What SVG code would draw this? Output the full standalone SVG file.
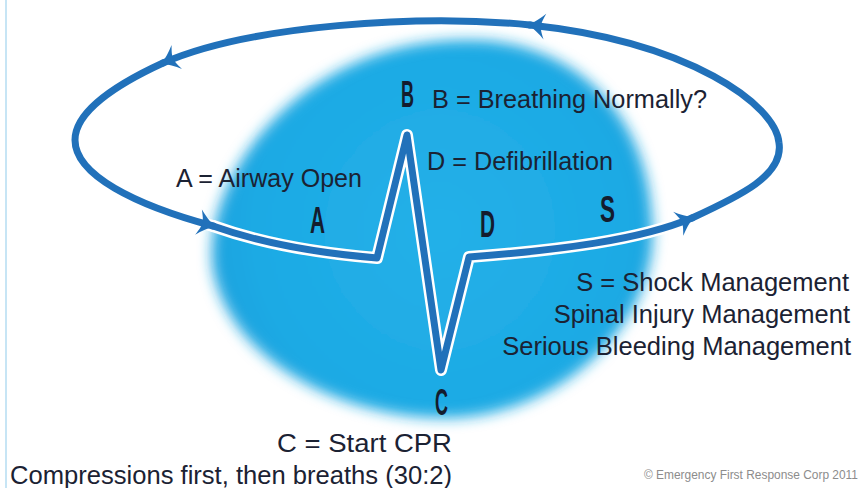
<svg xmlns="http://www.w3.org/2000/svg" width="864" height="488" viewBox="0 0 864 488">
  <defs>
    <style>
      .lbl { font-family: "Liberation Sans", Arial, sans-serif; font-size: 25.5px; fill: #1b2233; }
      .big { font-family: "Liberation Sans", Arial, sans-serif; font-size: 36px; font-weight: bold; fill: #141c2e; }
      .copy { font-family: "Liberation Sans", Arial, sans-serif; font-size: 12.3px; fill: #8c8c8c; }
      .halo { fill: none; stroke: #ffffff; stroke-width: 12; stroke-linejoin: round; stroke-linecap: round; }
      .line { fill: none; stroke: #2171ba; stroke-width: 7; stroke-linejoin: round; stroke-linecap: round; marker-end: url(#arrow); }
    </style>
    <marker id="arrow" markerUnits="userSpaceOnUse" markerWidth="40" markerHeight="40" refX="0" refY="0" orient="auto" overflow="visible">
      <path d="M2,0 C-4,-3 -10,-8 -15,-13 C-12,-6 -11,-3 -11,0 C-11,3 -12,6 -15,13 C-10,8 -4,3 2,0 Z" fill="#2171ba"/>
    </marker>
    <radialGradient id="blobFill" cx="440" cy="230" r="230" gradientUnits="userSpaceOnUse">
      <stop offset="0" stop-color="#22b0e8"/>
      <stop offset="0.8" stop-color="#1eaae4"/>
      <stop offset="1" stop-color="#1ca3df"/>
    </radialGradient>
    <filter id="soft" x="-20%" y="-20%" width="140%" height="140%">
      <feGaussianBlur stdDeviation="7"/>
    </filter>
  </defs>

  <rect x="0" y="0" width="864" height="488" fill="#ffffff"/>
  <line x1="6" y1="0" x2="6" y2="488" stroke="#b4dcf2" stroke-width="1.5"/>

  <g id="blob">
    <path d="M470,40 C575,40 648,115 652,220 C662,320 560,418 445,418 C340,418 230,360 213,270 C200,180 300,38 470,40 Z" fill="url(#blobFill)" filter="url(#soft)"/>
  </g>

  <g id="connectors">
    <path class="halo" d="M213,226 Q280,250 377,258 L407,135 L441,370 L469,257 C560,250 640,240 692,218"/>
    <path class="halo" d="M163,63 C115,85 75,112 75,140 C75,175 135,205 213,226"/>
    <path class="halo" d="M692,218 C740,196 784,175 779,143 C776,105 690,42 530,25"/>
    <path class="line" d="M213,226 Q280,250 377,258 L407,135 L441,370 L469,257 C560,250 640,240 692,218"/>
    <path class="line" d="M692,218 C740,196 784,175 779,143 C776,105 690,42 530,25"/>
    <path class="line" d="M530,25 C420,14 250,25 163,63"/>
    <path class="line" d="M163,63 C115,85 75,112 75,140 C75,175 135,205 213,226"/>
  </g>

  <g id="node-A">
    <text class="big" x="310" y="233" textLength="15" lengthAdjust="spacingAndGlyphs">A</text>
    <text class="lbl" x="176" y="187" textLength="186" lengthAdjust="spacingAndGlyphs">A = Airway Open</text>
  </g>
  <g id="node-B">
    <text class="big" x="401" y="107" textLength="13" lengthAdjust="spacingAndGlyphs">B</text>
    <text class="lbl" x="432" y="108" textLength="275" lengthAdjust="spacingAndGlyphs">B = Breathing Normally?</text>
  </g>
  <g id="node-C">
    <text class="big" x="435" y="415" textLength="13" lengthAdjust="spacingAndGlyphs">C</text>
    <text class="lbl" x="277" y="452" textLength="175" lengthAdjust="spacingAndGlyphs">C = Start CPR</text>
    <text class="lbl" x="10" y="484" textLength="442" lengthAdjust="spacingAndGlyphs">Compressions first, then breaths (30:2)</text>
  </g>
  <g id="node-D">
    <text class="big" x="480" y="237" textLength="15" lengthAdjust="spacingAndGlyphs">D</text>
    <text class="lbl" x="427" y="170" textLength="186" lengthAdjust="spacingAndGlyphs">D = Defibrillation</text>
  </g>
  <g id="node-S">
    <text class="big" x="600" y="222" textLength="15" lengthAdjust="spacingAndGlyphs">S</text>
    <text class="lbl" x="849" y="291" text-anchor="end">S = Shock Management</text>
    <text class="lbl" x="850" y="323" text-anchor="end">Spinal Injury Management</text>
    <text class="lbl" x="851" y="355" text-anchor="end">Serious Bleeding Management</text>
  </g>
  <text id="copyright" class="copy" x="644" y="479" textLength="214" lengthAdjust="spacingAndGlyphs">© Emergency First Response Corp 2011</text>
</svg>
